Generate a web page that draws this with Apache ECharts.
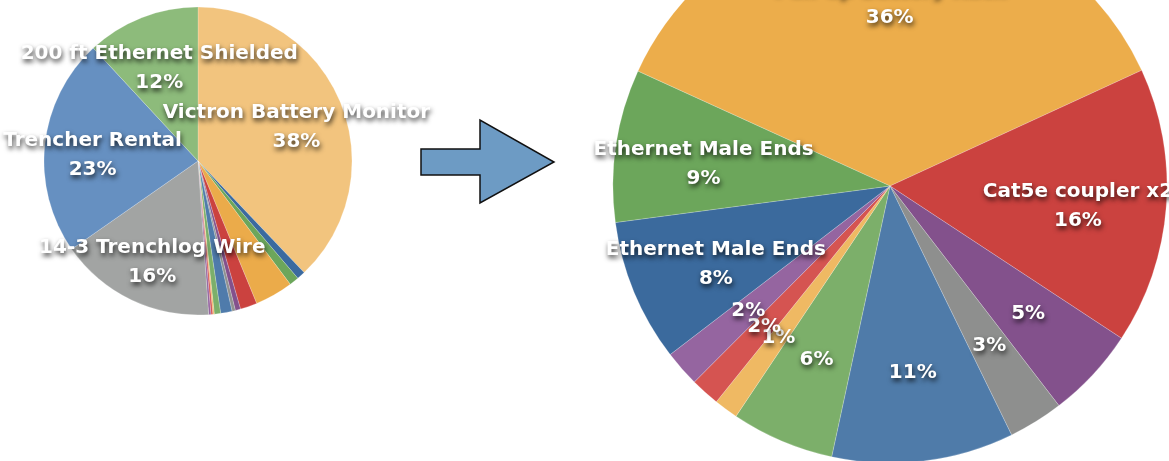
<!DOCTYPE html>
<html>
<head>
<meta charset="utf-8">
<script src="https://cdn.jsdelivr.net/npm/echarts@6/dist/echarts.min.js"></script>
<style>
  html, body { margin: 0; padding: 0; background: #fff; }
  #chart { width: 1169px; height: 461px; }
</style>
</head>
<body>
<div id="chart"></div>
<script>
// left pie: whole budget, small items grouped after the battery monitor
const leftNames = ['Victron Battery Monitor', 'Ethernet Male Ends', 'Ethernet Male Ends', 'Pull-up Battery Rack',
  'Cat5e coupler x2', 'Item 5', 'Item 6', 'Item 7', 'Item 8', 'Item 9', 'Item 10', 'Item 11',
  '14-3 Trenchlog Wire', 'Trencher Rental', '200 ft Ethernet Shielded']
const leftValues = [37.9, 0.88, 1.0, 4.0, 1.77, 0.55, 0.35, 1.2, 0.66, 0.15, 0.2, 0.24, 16.4, 22.8, 11.9]
const leftColors = ['#f2c47e', '#3b6a9f', '#6ca65b', '#ebab4a', '#cb423f', '#83518c', '#909190', '#4f7bab',
  '#7caf6a', '#efb963', '#d55451', '#9565a0', '#a2a4a3', '#6690c1', '#8dbb7b']
// only these get a label on the left
const leftShown = ['Victron Battery Monitor', '14-3 Trenchlog Wire', 'Trencher Rental', '200 ft Ethernet Shielded']

// right pie: the small items blown up
const rightNames = ['Pull-up Battery Rack', 'Cat5e coupler x2', 'Item 5', 'Item 6', 'Item 7', 'Item 8',
  'Item 9', 'Item 10', 'Item 11', 'Ethernet Male Ends', 'Ethernet Male Ends']
const rightLabels = ['Pull-up Battery Rack', 'Cat5e coupler x2', '', '', '', '', '', '', '', 'Ethernet Male Ends', 'Ethernet Male Ends']
const rightValues = [36.3, 16.1, 5.3, 3.2, 10.6, 6.0, 1.4, 1.7, 2.1, 8.3, 8.9]
const rightColors = ['#ecad4b', '#cb423f', '#83518c', '#8e8f8e', '#4f7ba9', '#7caf6a', '#efb963',
  '#d55451', '#9565a0', '#3b6a9d', '#6ca65b']

const labelStyle = {
  color: '#fff',
  fontFamily: 'DejaVu Sans',
  fontWeight: 'bold',
  fontSize: 20,
  lineHeight: 29,
  textShadowColor: 'rgba(0,0,0,0.75)',
  textShadowBlur: 5,
  textShadowOffsetX: 1,
  textShadowOffsetY: 3,
  // small empty line on top, pushes the two line labels down a little like the original
  rich: {
    s: { fontSize: 1, lineHeight: 12, height: 12 }
  }
}

function pieData (names, values, colors) {
  return values.map((v, i) => ({ name: names[i], value: v, itemStyle: { color: colors[i] } }))
}
function pct (p) {
  return Math.round(p) + '%'
}
function twoLines (name, p) {
  return '{s| }\n' + name + '\n' + pct(p)
}

const chart = echarts.init(document.getElementById('chart'))
const option = {
  animation: false,
  series: [
    {
      // left pie slices
      type: 'pie',
      center: [198, 161],
      radius: 154,
      startAngle: 90,
      silent: true,
      label: { show: false },
      labelLine: { show: false },
      itemStyle: { borderColor: 'rgba(255,255,255,0.4)', borderWidth: 0.5 },
      data: pieData(leftNames, leftValues, leftColors)
    },
    {
      // left labels, bigger invisible pie so the text sits at ~2/3 of the radius
      type: 'pie',
      center: [198, 161],
      radius: 206,
      startAngle: 90,
      silent: true,
      avoidLabelOverlap: false,
      labelLayout: { hideOverlap: false },
      itemStyle: { color: 'rgba(0,0,0,0)', borderWidth: 0 },
      labelLine: { show: false },
      label: Object.assign({
        show: true,
        position: 'inside',
        formatter: (p) => leftShown.indexOf(p.name) >= 0 ? twoLines(p.name, p.percent) : ''
      }, labelStyle),
      data: leftValues.map((v, i) => ({ name: leftNames[i], value: v }))
    },
    {
      // right pie slices
      type: 'pie',
      center: [890, 186],
      radius: 277,
      startAngle: 155.5,
      silent: true,
      label: { show: false },
      labelLine: { show: false },
      itemStyle: { borderColor: 'rgba(255,255,255,0.4)', borderWidth: 0.5 },
      data: pieData(rightNames, rightValues, rightColors)
    },
    {
      // right labels
      type: 'pie',
      center: [890, 186],
      radius: 371,
      startAngle: 155.5,
      silent: true,
      avoidLabelOverlap: false,
      labelLayout: { hideOverlap: false },
      itemStyle: { color: 'rgba(0,0,0,0)', borderWidth: 0 },
      labelLine: { show: false },
      label: Object.assign({
        show: true,
        position: 'inside',
        formatter: (p) => rightLabels[p.dataIndex] ? twoLines(rightLabels[p.dataIndex], p.percent) : pct(p.percent)
      }, labelStyle),
      data: rightValues.map((v, i) => ({ name: rightNames[i], value: v }))
    }
  ],
  graphic: [
    {
      // the arrow between the two pies
      type: 'polygon',
      shape: {
        points: [[421, 149], [480, 149], [480, 120], [554, 162], [480, 203], [480, 175], [421, 175]]
      },
      style: { fill: '#6d9bc4', stroke: '#111', lineWidth: 1.5 }
    }
  ]
}
chart.setOption(option)
</script>
</body>
</html>
